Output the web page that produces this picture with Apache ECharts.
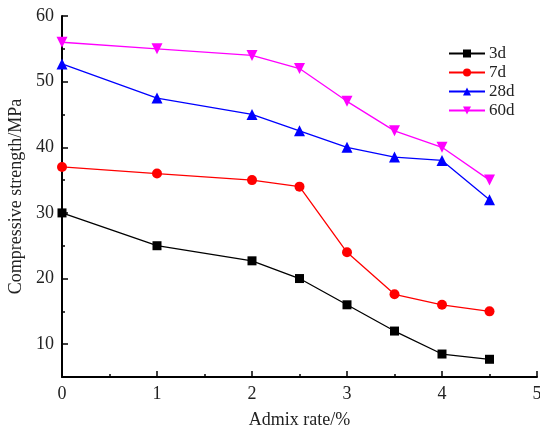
<!DOCTYPE html>
<html>
<head>
<meta charset="UTF-8">
<title>Compressive strength</title>
<script src="https://cdn.jsdelivr.net/npm/echarts@6/dist/echarts.min.js"></script>
<style>
html, body { margin: 0; padding: 0; background: #fff; }
#chart { width: 540px; height: 429px; }
</style>
</head>
<body>
<div id="chart"></div>
<script>
// admix rate (%) for every series
var admixRate = [0, 1, 2, 2.5, 3, 3.5, 4, 4.5];
var s3d  = [30, 25, 22.7, 20, 16, 12, 8.5, 7.7];
var s7d  = [37, 36, 35, 34, 24, 17.6, 16, 15];
var s28d = [52.7, 47.5, 45, 42.5, 40, 38.5, 38, 32];
var s60d = [56, 55, 54, 52, 47, 42.5, 40, 35];
var yMajor = [10, 20, 30, 40, 50, 60];
var yMinor = [15, 25, 35, 45, 55];

var font = 'Liberation Serif';

function pairs(ys) {
	var out = [];
	for (var i = 0; i < admixRate.length; i++) {
		out.push([admixRate[i], ys[i]]);
	}
	return out;
}

function line(name, ys, color, symbol, size, rot) {
	return {
		name: name,
		type: 'line',
		yAxisIndex: 0,
		data: pairs(ys),
		symbol: symbol,
		symbolSize: size,
		symbolRotate: rot || 0,
		showAllSymbol: true,
		lineStyle: { color: color, width: 1.3 },
		itemStyle: { color: color },
		emphasis: { disabled: true }
	};
}

var option = {
	animation: false,
	backgroundColor: '#fff',
	grid: { left: 62, right: 3, top: 16, bottom: 52, containLabel: false, outerBoundsMode: 'none' },
	legend: {
		orient: 'vertical',
		left: 443,
		top: 40,
		itemWidth: 36,
		itemHeight: 10,
		itemGap: 2,
		textStyle: { fontFamily: font, fontSize: 17, color: '#222', padding: [0, 0, 0, -1] },
		data: ['3d', '7d', '28d', '60d']
	},
	xAxis: {
		type: 'value',
		min: 0,
		max: 5,
		interval: 1,
		name: 'Admix rate/%',
		nameLocation: 'middle',
		nameGap: 34,
		nameTextStyle: { fontFamily: font, fontSize: 18, color: '#222' },
		axisLine: { show: true, lineStyle: { color: '#000', width: 2 } },
		axisTick: { show: true, inside: true, length: 6, lineStyle: { color: '#000', width: 1.5 } },
		minorTick: { show: true, splitNumber: 2, length: 3, lineStyle: { color: '#000', width: 1.5 } },
		axisLabel: { fontFamily: font, fontSize: 18, color: '#222', margin: 8 },
		splitLine: { show: false }
	},
	yAxis: [{
		type: 'value',
		min: 5,
		max: 60,
		interval: 5,
		name: 'Compressive strength/MPa',
		nameLocation: 'middle',
		nameGap: 32,
		nameTextStyle: { fontFamily: font, fontSize: 18, color: '#222' },
		axisLine: { show: true, lineStyle: { color: '#000', width: 2 } },
		axisTick: { show: true, inside: true, length: 6, customValues: yMajor, lineStyle: { color: '#000', width: 1.5 } },
		axisLabel: { fontFamily: font, fontSize: 18, color: '#222', margin: 8, customValues: yMajor },
		splitLine: { show: false }
	}, {
		// only for the short ticks between the labelled ones
		type: 'value',
		position: 'left',
		min: 5,
		max: 60,
		interval: 5,
		axisLine: { show: false },
		axisTick: { show: true, inside: true, length: 3, customValues: yMinor, lineStyle: { color: '#000', width: 1.5 } },
		axisLabel: { show: false },
		splitLine: { show: false }
	}],
	series: [
		line('3d', s3d, '#000000', 'rect', 9),
		line('7d', s7d, '#ff0000', 'circle', 10),
		line('28d', s28d, '#0000ff', 'triangle', 11),
		line('60d', s60d, '#ff00ff', 'triangle', 11, 180)
	]
};

var myChart = echarts.init(document.getElementById('chart'));
myChart.setOption(option);
</script>
</body>
</html>
